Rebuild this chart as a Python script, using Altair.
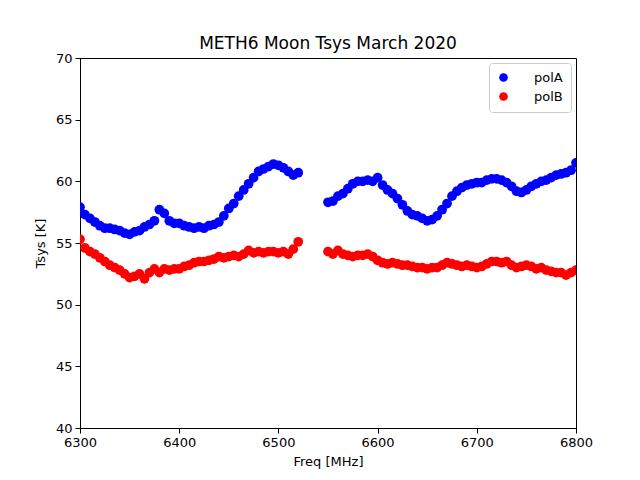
import altair as alt
import pandas as pd

freq_seg1 = [6300 + 5 * i for i in range(45)]
freq_seg2 = [6550 + 5 * i for i in range(51)]

polA_seg1 = [57.9, 57.3, 57.0, 56.7, 56.4, 56.2, 56.2, 56.1, 56.0, 55.8,
             55.7, 55.9, 56.0, 56.3, 56.5, 56.8, 57.7, 57.4, 56.8, 56.6,
             56.6, 56.4, 56.3, 56.2, 56.3, 56.2, 56.4, 56.5, 56.7, 57.2,
             57.8, 58.2, 58.8, 59.3, 59.8, 60.3, 60.8, 61.0, 61.2, 61.4,
             61.3, 61.1, 60.8, 60.5, 60.7]
polA_seg2 = [58.3, 58.4, 58.8, 59.0, 59.4, 59.8, 60.0, 60.0, 60.1, 60.0,
             60.3, 59.7, 59.3, 59.0, 58.6, 58.1, 57.6, 57.3, 57.2, 57.0,
             56.8, 56.9, 57.2, 57.7, 58.2, 58.8, 59.2, 59.5, 59.7, 59.8,
             59.9, 59.9, 60.1, 60.2, 60.2, 60.1, 59.9, 59.6, 59.2, 59.1,
             59.3, 59.6, 59.8, 60.0, 60.1, 60.3, 60.5, 60.6, 60.7, 60.9,
             61.5]
polB_seg1 = [55.3, 54.6, 54.3, 54.1, 53.8, 53.5, 53.2, 53.0, 52.8, 52.5,
             52.2, 52.3, 52.5, 52.1, 52.6, 52.9, 52.6, 52.9, 52.8, 52.9,
             52.9, 53.1, 53.2, 53.4, 53.5, 53.5, 53.6, 53.7, 53.9, 53.8,
             53.9, 54.0, 53.9, 54.1, 54.4, 54.2, 54.3, 54.2, 54.3, 54.3,
             54.2, 54.3, 54.1, 54.5, 55.1]
polB_seg2 = [54.3, 54.1, 54.4, 54.1, 54.0, 53.9, 54.0, 54.0, 54.1, 53.9,
             53.6, 53.4, 53.3, 53.4, 53.3, 53.2, 53.2, 53.1, 53.0, 53.0,
             52.9, 53.0, 53.0, 53.2, 53.4, 53.3, 53.2, 53.1, 53.2, 53.1,
             53.0, 53.1, 53.3, 53.5, 53.5, 53.4, 53.5, 53.2, 53.0, 53.1,
             53.2, 53.1, 52.9, 53.0, 52.8, 52.7, 52.6, 52.6, 52.4, 52.6,
             52.8]

series = ["polA", "polB"]
colors = ["#0000ff", "#ff0000"]
x_ticks = [6300, 6400, 6500, 6600, 6700, 6800]
y_ticks = [40, 45, 50, 55, 60, 65, 70]

freqs = freq_seg1 + freq_seg2
rows = []
for f, v in zip(freqs, polA_seg1 + polA_seg2):
    rows.append({"freq": f, "tsys": v, "pol": "polA"})
for f, v in zip(freqs, polB_seg1 + polB_seg2):
    rows.append({"freq": f, "tsys": v, "pol": "polB"})
df = pd.DataFrame(rows)

font = "DejaVu Sans"

chart = alt.Chart(df).mark_circle(size=95, opacity=1, clip=True).encode(
    x=alt.X("freq:Q", title="Freq [MHz]",
            scale=alt.Scale(domain=[6300, 6800], nice=False, zero=False, padding=0),
            axis=alt.Axis(values=x_ticks, format="d", grid=False, labelFlush=False)),
    y=alt.Y("tsys:Q", title="Tsys [K]",
            scale=alt.Scale(domain=[40, 70], nice=False, zero=False, padding=0),
            axis=alt.Axis(values=y_ticks, format="d", grid=False, labelFlush=False)),
    color=alt.Color("pol:N", title=None,
                    scale=alt.Scale(domain=series, range=colors),
                    legend=alt.Legend(orient="none", legendX=409, legendY=5,
                                      symbolType="circle", symbolSize=75,
                                      symbolOpacity=1,
                                      labelFont=font, labelFontSize=13,
                                      labelColor="black",
                                      padding=8, rowPadding=5,
                                      labelOffset=24,
                                      strokeColor="#cccccc", fillColor="white",
                                      cornerRadius=3)),
).properties(
    width=496, height=370,
    title=alt.TitleParams("METH6 Moon Tsys March 2020", font=font,
                          fontSize=17, fontWeight="normal", color="black",
                          offset=4, dy=5),
    autosize="none",
    padding={"left": 80, "top": 58, "right": 64, "bottom": 52},
).configure_view(
    stroke="black", strokeWidth=1
).configure_axis(
    domainColor="black", tickColor="black", tickSize=5,
    labelFont=font, labelFontSize=13, labelColor="black",
    titleFont=font, titleFontSize=13, titleFontWeight="normal",
    titleColor="black", labelPadding=3,
).configure_axisX(titlePadding=6).configure_axisY(titlePadding=8)

chart.save("out.html", embed_options={"renderer": "svg", "actions": False})
